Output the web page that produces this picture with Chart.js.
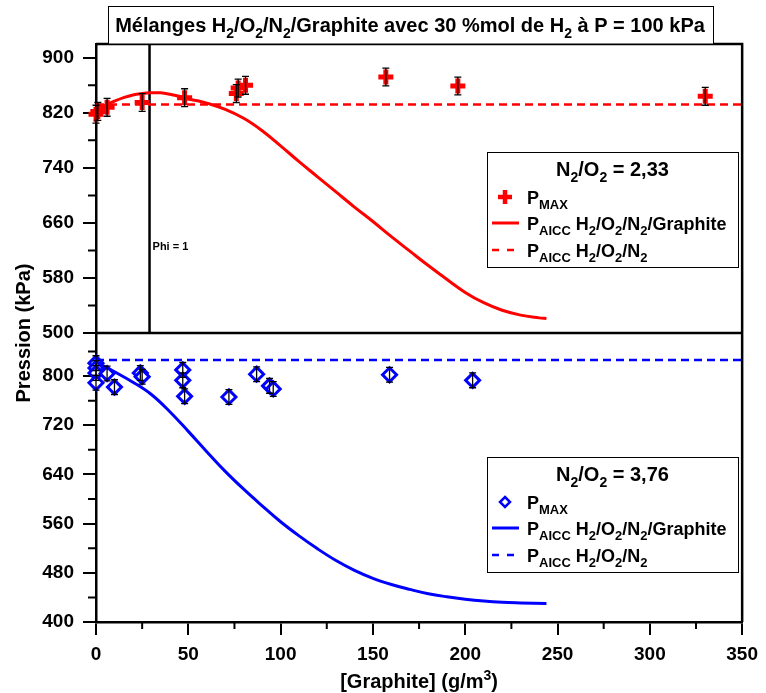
<!DOCTYPE html>
<html>
<head>
<meta charset="utf-8">
<script src="https://cdn.jsdelivr.net/npm/chart.js@4.4.0/dist/chart.umd.min.js"></script>
<style>
  html, body { margin: 0; padding: 0; background: #fff; }
  #wrap { width: 766px; height: 693px; position: relative; }
</style>
</head>
<body>
<div id="wrap"><canvas id="chart" width="766" height="693"></canvas></div>
<script>
// N2/O2 = 2,33 (top panel)
const pmaxTopX = [0, 1, 6, 25, 48, 76, 77, 81, 157, 196, 330];
const pmaxTopY = [818, 822, 828, 835, 842, 848, 856, 860, 872, 859, 844];
const pmaxTopErr = [13, 13, 13, 13, 13, 13, 13, 13, 13, 13, 13];
const aiccTopX = [0, 5, 10, 15, 20, 25, 30, 35, 40, 45, 50, 55, 60, 70, 80, 90, 100, 110, 120, 130, 140, 150, 160, 170, 180, 190, 200, 210, 220, 230, 240, 244];
const aiccTopY = [823, 831, 837, 842, 846, 848, 849, 849, 847, 844, 840, 837.5, 834, 825, 812, 794, 772, 749, 727, 705, 683, 662, 640, 619, 598, 578, 559, 544, 533, 526, 522, 521];
const aiccGasTop = 832;

// N2/O2 = 3,76 (bottom panel)
const pmaxBotX = [0, 0, 0, 0, 6, 10, 24, 25, 47, 47, 48, 72, 87, 94, 96, 159, 204];
const pmaxBotY = [821, 813, 805, 789, 804, 782, 805, 799, 810, 793, 767, 766, 803, 784, 779, 802, 793];
const pmaxBotErr = [12, 12, 12, 12, 12, 12, 12, 12, 12, 12, 12, 12, 12, 12, 12, 12, 12];
const aiccBotX = [0, 10, 20, 30, 40, 50, 60, 70, 80, 90, 100, 110, 120, 130, 140, 150, 160, 170, 180, 190, 200, 210, 220, 230, 244];
const aiccBotY = [823, 807, 790, 770, 742, 710, 677, 645, 616, 589, 563, 540, 519, 500, 484, 471, 461, 453, 446, 441, 437, 434, 432, 431, 430];
const aiccGasBot = 826;

const phiX = 29;
const xTicks = [0, 50, 100, 150, 200, 250, 300, 350];
const xTicksMinor = [25, 75, 125, 175, 225, 275, 325];
const yTopTicks = [500, 580, 660, 740, 820, 900];
const yTopMinor = [540, 620, 700, 780, 860];
const yBotTicks = [400, 480, 560, 640, 720, 800];
const yBotMinor = [440, 520, 600, 680, 760, 840];

const RED = "#ff0000";
const BLUE = "#0000ff";
const FONT = '"Liberation Sans", Arial, sans-serif';

function pts(xs, ys) {
    return xs.map((x, i) => ({ x: x, y: ys[i] }));
}

// text with sub/superscripts: parts = [[text, ""|"sub"|"sup"], ...]
function drawRich(ctx, parts, x, y, size, align) {
    const small = Math.round(size * 0.7);
    let total = 0;
    parts.forEach(p => {
        ctx.font = "bold " + (p[1] ? small : size) + "px " + FONT;
        total += ctx.measureText(p[0]).width;
    });
    let cx = align === "center" ? x - total / 2 : x;
    ctx.textAlign = "left";
    ctx.textBaseline = "alphabetic";
    ctx.fillStyle = "#000";
    parts.forEach(p => {
        ctx.font = "bold " + (p[1] ? small : size) + "px " + FONT;
        let dy = 0;
        if (p[1] === "sub") dy = size * 0.28;
        if (p[1] === "sup") dy = -size * 0.42;
        ctx.fillText(p[0], cx, y + dy);
        cx += ctx.measureText(p[0]).width;
    });
    return total;
}

const decorations = {
    id: "decorations",
    beforeDatasetsDraw(chart) {
        const ctx = chart.ctx;
        const x = chart.scales.x;
        const yT = chart.scales.yTop;
        ctx.save();
        ctx.strokeStyle = "#000";
        ctx.lineWidth = 2.5;
        const px = x.getPixelForValue(phiX);
        ctx.beginPath();
        ctx.moveTo(px, yT.top);
        ctx.lineTo(px, yT.bottom);
        ctx.stroke();
        ctx.font = "bold 11px " + FONT;
        ctx.fillStyle = "#000";
        ctx.fillText("Phi = 1", px + 3, yT.getPixelForValue(621));
        ctx.restore();
    },
    afterDatasetsDraw(chart) {
        const ctx = chart.ctx;
        const x = chart.scales.x;
        const yT = chart.scales.yTop;
        const yB = chart.scales.yBot;
        const a = chart.chartArea;
        ctx.save();

        // error bars
        ctx.strokeStyle = "#000";
        ctx.lineWidth = 1.3;
        function bars(xs, ys, es, sc) {
            xs.forEach((v, i) => {
                const px = x.getPixelForValue(v);
                const p1 = sc.getPixelForValue(ys[i] + es[i]);
                const p2 = sc.getPixelForValue(ys[i] - es[i]);
                ctx.beginPath();
                ctx.moveTo(px, p1); ctx.lineTo(px, p2);
                ctx.moveTo(px - 3.5, p1); ctx.lineTo(px + 3.5, p1);
                ctx.moveTo(px - 3.5, p2); ctx.lineTo(px + 3.5, p2);
                ctx.stroke();
            });
        }
        bars(pmaxTopX, pmaxTopY, pmaxTopErr, yT);
        bars(pmaxBotX, pmaxBotY, pmaxBotErr, yB);

        // frame
        ctx.lineWidth = 2.5;
        ctx.beginPath();
        ctx.moveTo(a.left, a.top); ctx.lineTo(a.right, a.top); ctx.lineTo(a.right, a.bottom);
        ctx.moveTo(a.left, yT.bottom); ctx.lineTo(a.right, yT.bottom);
        ctx.stroke();

        // minor ticks
        ctx.lineWidth = 2;
        ctx.beginPath();
        xTicksMinor.forEach(v => {
            const p = x.getPixelForValue(v);
            ctx.moveTo(p, a.bottom); ctx.lineTo(p, a.bottom + 7);
        });
        yTopMinor.forEach(v => {
            const p = yT.getPixelForValue(v);
            ctx.moveTo(a.left, p); ctx.lineTo(a.left - 8, p);
        });
        yBotMinor.forEach(v => {
            const p = yB.getPixelForValue(v);
            ctx.moveTo(a.left, p); ctx.lineTo(a.left - 8, p);
        });
        ctx.stroke();

        // title box
        ctx.lineWidth = 1;
        ctx.fillStyle = "#fff";
        ctx.fillRect(108.5, 6.5, 605, a.top - 6.5);
        ctx.strokeRect(108.5, 6.5, 605, a.top - 6.5);
        drawRich(ctx, [["Mélanges H", ""], ["2", "sub"], ["/O", ""], ["2", "sub"], ["/N", ""], ["2", "sub"],
            ["/Graphite avec 30 %mol de H", ""], ["2", "sub"], [" à P = 100 kPa", ""]], 410, 32, 20, "center");

        // axis titles
        drawRich(ctx, [["[Graphite] (g/m", ""], ["3", "sup"], [")", ""]], (a.left + a.right) / 2, 688, 20, "center");
        ctx.save();
        ctx.translate(30, yT.bottom);
        ctx.rotate(-Math.PI / 2);
        drawRich(ctx, [["Pression (kPa)", ""]], 0, 0, 20, "center");
        ctx.restore();

        // legends
        function legend(top, color, ratio, marker) {
            const left = 487, w = 251, h = 115;
            ctx.lineWidth = 1;
            ctx.strokeStyle = "#000";
            ctx.fillStyle = "#fff";
            ctx.fillRect(left + 0.5, top + 0.5, w, h);
            ctx.strokeRect(left + 0.5, top + 0.5, w, h);
            drawRich(ctx, [["N", ""], ["2", "sub"], ["/O", ""], ["2", "sub"], [" = " + ratio, ""]], left + w / 2, top + 24, 20, "center");
            const rows = [top + 52, top + 78, top + 105];
            const sx = 505;
            // marker
            ctx.strokeStyle = color;
            const my = rows[0] - 7;
            if (marker === "cross") {
                ctx.lineWidth = 4.5;
                ctx.beginPath();
                ctx.moveTo(sx - 7, my); ctx.lineTo(sx + 7, my);
                ctx.moveTo(sx, my - 7); ctx.lineTo(sx, my + 7);
                ctx.stroke();
            } else {
                ctx.lineWidth = 2.5;
                ctx.beginPath();
                ctx.moveTo(sx, my - 5); ctx.lineTo(sx + 5, my); ctx.lineTo(sx, my + 5); ctx.lineTo(sx - 5, my); ctx.closePath();
                ctx.stroke();
            }
            ctx.lineWidth = 3;
            ctx.beginPath();
            ctx.moveTo(492, rows[1] - 7); ctx.lineTo(519, rows[1] - 7);
            ctx.stroke();
            ctx.lineWidth = 2.5;
            ctx.beginPath();
            ctx.moveTo(492, rows[2] - 7); ctx.lineTo(499, rows[2] - 7);
            ctx.moveTo(507, rows[2] - 7); ctx.lineTo(514, rows[2] - 7);
            ctx.stroke();
            drawRich(ctx, [["P", ""], ["MAX", "sub"]], 527, rows[0], 18, "left");
            drawRich(ctx, [["P", ""], ["AICC", "sub"], [" H", ""], ["2", "sub"], ["/O", ""], ["2", "sub"], ["/N", ""], ["2", "sub"], ["/Graphite", ""]], 527, rows[1], 18, "left");
            drawRich(ctx, [["P", ""], ["AICC", "sub"], [" H", ""], ["2", "sub"], ["/O", ""], ["2", "sub"], ["/N", ""], ["2", "sub"]], 527, rows[2], 18, "left");
        }
        legend(152, RED, "2,33", "cross");
        legend(457, BLUE, "3,76", "diamond");

        ctx.restore();
    }
};

const tickFont = { family: FONT, size: 19, weight: "bold" };

function yScale(min, max, tickValues) {
    return {
        type: "linear",
        position: "left",
        stack: "panels",
        stackWeight: 1,
        min: min,
        max: max,
        afterBuildTicks: s => { s.ticks = tickValues.map(v => ({ value: v })); },
        ticks: { font: tickFont, color: "#000", padding: 9 },
        grid: { drawOnChartArea: false, drawTicks: true, tickLength: 13, color: "#000", lineWidth: 2 },
        border: { color: "#000", width: 2.5 },
        afterFit: s => { s.width = 96; }
    };
}

new Chart(document.getElementById("chart").getContext("2d"), {
    type: "scatter",
    data: {
        datasets: [
            {
                label: "PAICC H2/O2/N2/Graphite (2,33)",
                data: pts(aiccTopX, aiccTopY),
                yAxisID: "yTop",
                showLine: true,
                borderColor: RED,
                borderWidth: 3,
                pointRadius: 0,
                tension: 0.4,
            },
            {
                label: "PAICC H2/O2/N2 (2,33)",
                data: [{ x: 0, y: aiccGasTop }, { x: 350, y: aiccGasTop }],
                yAxisID: "yTop",
                showLine: true,
                borderColor: RED,
                borderWidth: 2.5,
                borderDash: [8, 5],
                pointRadius: 0,
            },
            {
                label: "PMAX (2,33)",
                data: pts(pmaxTopX, pmaxTopY),
                yAxisID: "yTop",
                pointStyle: "cross",
                pointRadius: 7.5,
                borderColor: RED,
                borderWidth: 5,
                clip: false,
            },
            {
                label: "PAICC H2/O2/N2/Graphite (3,76)",
                data: pts(aiccBotX, aiccBotY),
                yAxisID: "yBot",
                showLine: true,
                borderColor: BLUE,
                borderWidth: 3,
                pointRadius: 0,
                tension: 0.4,
            },
            {
                label: "PAICC H2/O2/N2 (3,76)",
                data: [{ x: 0, y: aiccGasBot }, { x: 350, y: aiccGasBot }],
                yAxisID: "yBot",
                showLine: true,
                borderColor: BLUE,
                borderWidth: 2.5,
                borderDash: [8, 5],
                pointRadius: 0,
            },
            {
                label: "PMAX (3,76)",
                data: pts(pmaxBotX, pmaxBotY),
                yAxisID: "yBot",
                pointStyle: "rectRot",
                pointRadius: 7,
                borderColor: BLUE,
                backgroundColor: "#fff",
                borderWidth: 3,
                clip: false,
            },
        ],
    },
    options: {
        responsive: false,
        animation: false,
        devicePixelRatio: 1,
        layout: { padding: { top: 44, right: 16, left: 0, bottom: 0 } },
        plugins: {
            legend: { display: false },
            tooltip: { enabled: false },
        },
        scales: {
            x: {
                type: "linear",
                position: "bottom",
                min: 0,
                max: 350,
                afterBuildTicks: s => { s.ticks = xTicks.map(v => ({ value: v })); },
                ticks: { font: tickFont, color: "#000", padding: 8, maxRotation: 0 },
                grid: { drawOnChartArea: false, drawTicks: true, tickLength: 13, color: "#000", lineWidth: 2 },
                border: { color: "#000", width: 2.5 },
                afterFit: s => { s.height = 71; }
            },
            yBot: yScale(400, 870, yBotTicks),
            yTop: yScale(500, 920, yTopTicks),
        },
    },
    plugins: [decorations],
});
</script>
</body>
</html>
